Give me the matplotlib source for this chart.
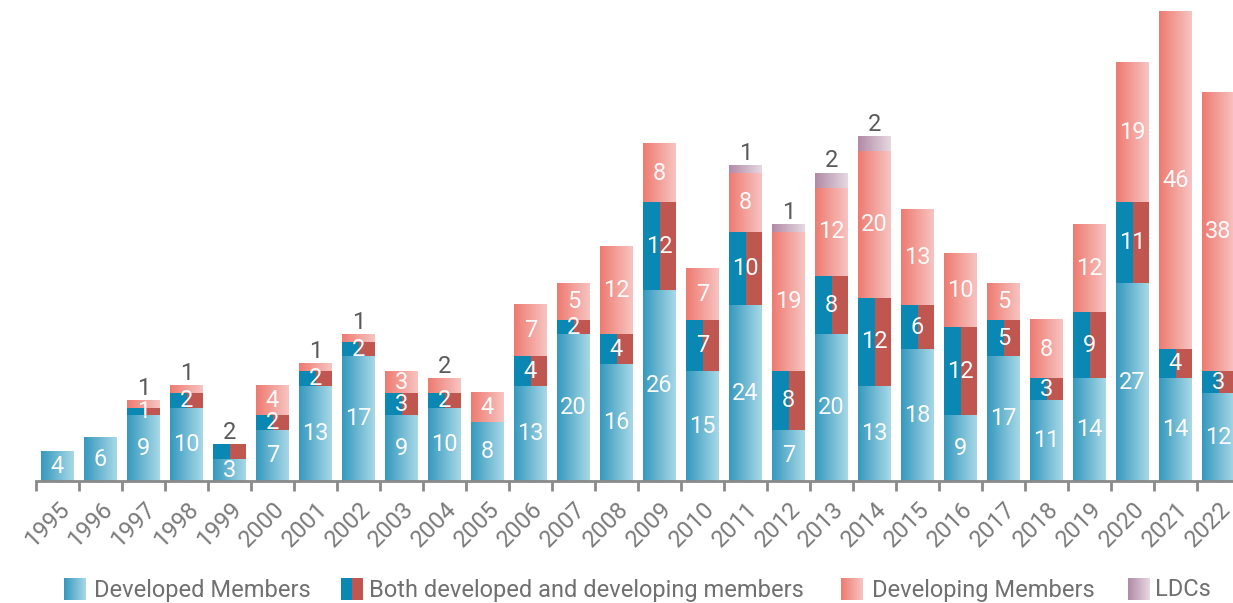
import numpy as np
import matplotlib.pyplot as plt
from matplotlib.colors import LinearSegmentedColormap

plt.rcParams['font.family'] = ['Roboto', 'DejaVu Sans']

# %%
# data
years = list(range(1995, 2023))
developed = [4, 6, 9, 10, 3, 7, 13, 17, 9, 10, 8, 13, 20, 16, 26, 15, 24, 7, 20, 13,
             18, 9, 17, 11, 14, 27, 14, 12]
both = [0, 0, 1, 2, 2, 2, 2, 2, 3, 2, 0, 4, 2, 4, 12, 7, 10, 8, 8, 12,
        6, 12, 5, 3, 9, 11, 4, 3]
developing = [0, 0, 1, 1, 0, 4, 1, 1, 3, 2, 4, 7, 5, 12, 8, 7, 8, 19, 12, 20,
              13, 10, 5, 8, 12, 19, 46, 38]
ldcs = [0, 0, 0, 0, 0, 0, 0, 0, 0, 0, 0, 0, 0, 0, 0, 0, 1, 1, 2, 2,
        0, 0, 0, 0, 0, 0, 0, 0]

legend_names = ['Developed Members', 'Both developed and developing members',
                'Developing Members', 'LDCs']

# %%
cm_dev = LinearSegmentedColormap.from_list('dev', ['#3599be', '#a8d8e7'])
cm_dvg = LinearSegmentedColormap.from_list('dvg', ['#ee7b71', '#f7c4c1'])
cm_ldc = LinearSegmentedColormap.from_list('ldc', ['#b28aa7', '#e6d8e2'])
both_left = '#0a87b2'
both_right = '#c05650'
grad = np.linspace(0, 1, 64).reshape(1, -1)


def grad_rect(ax, x0, x1, y0, y1, cmap):
    ax.imshow(grad, cmap=cmap, extent=[x0, x1, y0, y1], aspect='auto',
              interpolation='bilinear', zorder=2)


W, H = 1233, 603
fig = plt.figure(figsize=(W / 100, H / 100), dpi=100)
ax = fig.add_axes([36 / W, 122 / H, 1204 / W, 481 / H])

bw = 0.75
for i, yr in enumerate(years):
    x0, x1 = i - bw / 2, i + bw / 2
    segs = []
    bottom = 0
    if developed[i]:
        grad_rect(ax, x0, x1, bottom, bottom + developed[i], cm_dev)
        segs.append((developed[i], bottom))
        bottom += developed[i]
    if both[i]:
        ax.bar(i - bw / 4, both[i], bw / 2, bottom, color=both_left, zorder=2)
        ax.bar(i + bw / 4, both[i], bw / 2, bottom, color=both_right, zorder=2)
        segs.append((both[i], bottom))
        bottom += both[i]
    if developing[i]:
        grad_rect(ax, x0, x1, bottom, bottom + developing[i], cm_dvg)
        segs.append((developing[i], bottom))
        bottom += developing[i]
    if ldcs[i]:
        grad_rect(ax, x0, x1, bottom, bottom + ldcs[i], cm_ldc)
        segs.append((ldcs[i], bottom))
        bottom += ldcs[i]
    # small top segments get their number above the bar
    for k, (v, b) in enumerate(segs):
        if k == len(segs) - 1 and v <= 2 and k > 0:
            ax.text(i, b + v + 0.1, str(v), ha='center', va='bottom',
                    color='#5a5a5a', fontsize=17, zorder=4)
        else:
            ax.text(i, b + v / 2, str(v), ha='center', va='center',
                    color='#fafafa', fontsize=17, zorder=4)

ax.set_xlim(-0.5, len(years) - 0.5)
ax.set_ylim(0, 65.6)
ax.set_xticks(range(len(years)))
ax.set_xticklabels(years, rotation=45, ha='right', va='top',
                   rotation_mode='anchor', color='#7a7a7a', fontsize=17)
ax.tick_params(axis='x', which='major', length=0, pad=12)
ax.set_xticks(np.arange(-0.5, len(years), 1), minor=True)
ax.tick_params(axis='x', which='minor', length=7, width=2, color='#8a8a8a')
ax.set_yticks([])
for s in ['top', 'right', 'left']:
    ax.spines[s].set_visible(False)
ax.spines['bottom'].set_color('#8a8a8a')
ax.spines['bottom'].set_linewidth(2)

# %%
# legend drawn in pixel coordinates
lg = fig.add_axes([0, 0, 1, 1], zorder=-1)
grad_rect(lg, 64, 86, 600, 578, cm_dev)
lg.fill_between([341, 352], 578, 600, color=both_left, lw=0)
lg.fill_between([352, 363], 578, 600, color=both_right, lw=0)
grad_rect(lg, 841, 863, 600, 578, cm_dvg)
grad_rect(lg, 1128, 1150, 600, 578, cm_ldc)
lg.set_xlim(0, W)
lg.set_ylim(H, 0)
lg.axis('off')
for xt, name in zip([94, 369, 872, 1155], legend_names):
    lg.text(xt, 590, name, ha='left', va='center', color='#707070', fontsize=17)

fig.savefig('out.png', dpi=100)
